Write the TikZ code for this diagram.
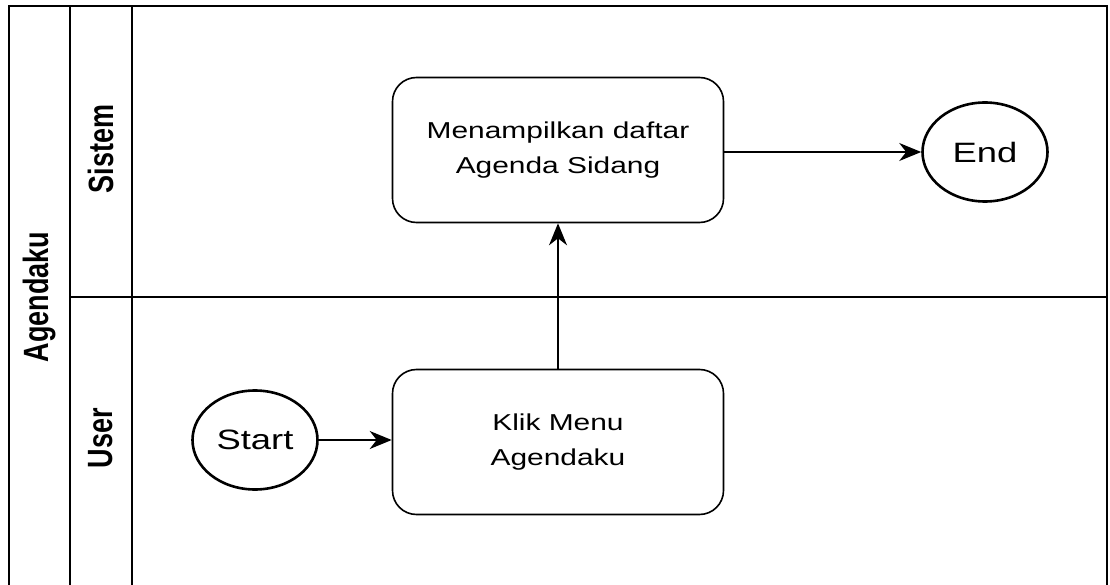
\documentclass[tikz,border=0pt]{standalone}
\usepackage{fontspec}
\usepackage{graphicx}
\setmainfont{Liberation Sans}[FakeStretch=1.3]
\newfontfamily\lanefont{Liberation Sans}
\usetikzlibrary{shapes.geometric, positioning, arrows.meta}

\begin{document}
\begin{tikzpicture}[x=1pt, y=-1pt,
        process/.style={draw, line width=1.6pt, rounded corners=24pt, minimum width=331pt,
            minimum height=145pt, align=center, font=\fontsize{23}{35}\selectfont},
        terminal/.style={draw, ellipse, line width=2.6pt, minimum width=125pt,
            minimum height=99pt, font=\fontsize{28}{32}\selectfont},
        flow/.style={line width=1.6pt, -{Stealth[length=22pt, width=18pt, inset=7pt]}},
        lane/.style={rotate=90, font=\lanefont\bfseries\fontsize{27}{30}\selectfont}]

        \useasboundingbox (0,0) rectangle (1110,585);

        % 1. Pool frame and lanes (bottom edge is cut off)
        \draw[line width=1.6pt] (9,585) -- (9,6) -- (1107,6) -- (1107,585);
        \draw[line width=1.6pt] (70,6) -- (70,585) (132,6) -- (132,585);
        \draw[line width=1.6pt] (70,297) -- (1107,297);

        % 2. Lane labels
        \node[lane] (pool) at (40,297) {\scalebox{1}[1.3]{Agendaku}};
        \node[lane] (sistem) at (101,149) {\scalebox{1}[1.3]{Sistem}};
        \node[lane] (user) at (101,438) {\scalebox{1}[1.3]{User}};

        % 3. User lane: start event and first task
        \node[terminal] (start) at (255,440) {Start};
        \node[process] (klik) at (558,442) {Klik Menu\\Agendaku};

        % 4. Sistem lane: second task and end event
        \node[process] (tampil) at (558,150) {Menampilkan daftar\\Agenda Sidang};
        \node[terminal] (finish) at (985,152) {End};

        % 5. Sequence flows
        \draw[flow] (start) -- (klik.west |- start);
        \draw[flow] (klik) -- (tampil);
        \draw[flow] (tampil.east |- finish) -- (finish);

    \end{tikzpicture}
\end{document}
